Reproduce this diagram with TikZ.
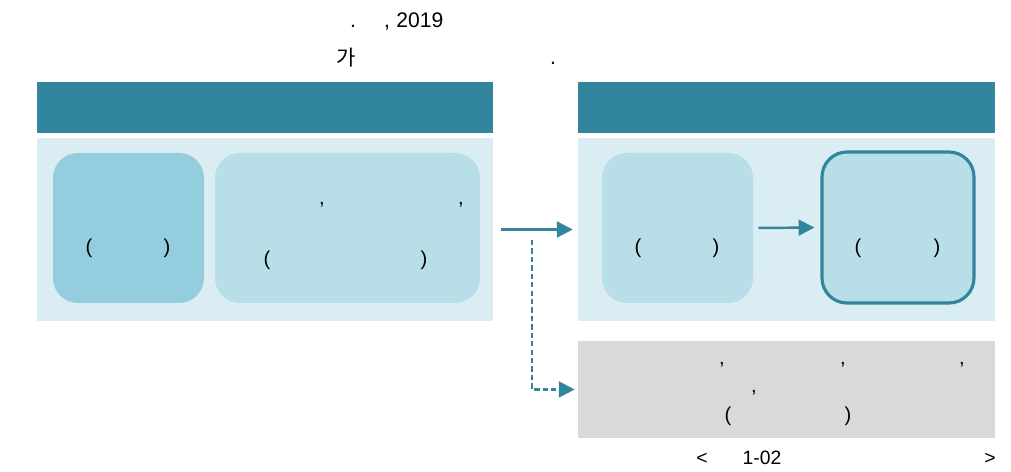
\documentclass[tikz,border=0pt]{standalone}
\usepackage{fontspec}
\setmainfont{Liberation Sans}
\newfontfamily\kr{Noto Sans CJK KR}
\usetikzlibrary{fit,arrows.meta}
\definecolor{teal1}{HTML}{31869E}
\definecolor{panelbg}{HTML}{DAEDF3}
\definecolor{boxdark}{HTML}{93CDDE}
\definecolor{boxlight}{HTML}{B8DEE8}
\definecolor{graybox}{HTML}{D9D9D9}
\tikzset{
  area/.style={inner sep=0pt, draw=none},
  header/.style={fill=teal1},
  panel/.style={fill=panelbg},
  rbox/.style={rounded corners=0.5cm},
  glyph/.style={inner sep=0pt, anchor=base, font=\fontsize{11.5}{13}\selectfont, text=black},
  tglyph/.style={glyph, font=\fontsize{12}{14}\selectfont},
  flow/.style={teal1, line width=1.4pt, -{Triangle[length=9pt,width=9pt]}},
  dflow/.style={teal1, line width=1.3pt, dash pattern=on 3pt off 1.8pt, -{Triangle[length=9pt,width=9pt]}}
}
\begin{document}
\begin{tikzpicture}[x=0.02cm,y=-0.02cm]
\useasboundingbox (0,0) rectangle (1011,472);
% title
\node[tglyph] (t1) at (353,28) {.};
\node[tglyph] (t2) at (387,28) {,};
\node[tglyph, anchor=base west] (t3) at (396,28) {2019};
\node[tglyph] (t4) at (346,66) {\kr 가};
\node[tglyph] (t5) at (553,65) {.};
% left panel
\node[area, fit={(37,82) (493,133)}, header] (lhead) {};
\node[area, fit={(37,138) (493,321)}, panel] (lbody) {};
\node[area, fit={(53,153) (204,303)}, rbox, fill=boxdark] (lb1) {};
\node[area, fit={(215,153) (480,303)}, rbox, fill=boxlight] (lb2) {};
\node[glyph] (lb1a) at (89,254) {(};
\node[glyph] (lb1b) at (167,254) {)};
\node[glyph] (lb2a) at (322,205) {,};
\node[glyph] (lb2b) at (461,205) {,};
\node[glyph] (lb2c) at (267,266) {(};
\node[glyph] (lb2d) at (424,266) {)};
% right panel
\node[area, fit={(578,82) (995,133)}, header] (rhead) {};
\node[area, fit={(578,138) (995,321)}, panel] (rbody) {};
\node[area, fit={(602,153) (753,303)}, rbox, fill=boxlight] (rb1) {};
\node[area, fit={(822,152) (974,303)}, rbox, fill=boxlight, draw=teal1, line width=1.8pt] (rb2) {};
\node[glyph] (rb1a) at (638,254) {(};
\node[glyph] (rb1b) at (716,254) {)};
\node[glyph] (rb2a) at (858,254) {(};
\node[glyph] (rb2b) at (937,254) {)};
% gray box
\node[area, fit={(578,341) (995,438)}, fill=graybox] (gbox) {};
\node[glyph] (g1) at (722,365) {,};
\node[glyph] (g2) at (843,365) {,};
\node[glyph] (g3) at (962,365) {,};
\node[glyph] (g4) at (754,393) {,};
\node[glyph] (g5) at (728,422) {(};
\node[glyph] (g6) at (848,422) {)};
% caption
\node[glyph, font=\fontsize{11}{13}\selectfont] (c1) at (702,465) {<};
\node[glyph, font=\fontsize{11}{13}\selectfont] (c2) at (762,465) {1-02};
\node[glyph, font=\fontsize{11}{13}\selectfont] (c3) at (990,465) {>};
% connectors
\draw[flow, shorten <=4.5pt, shorten >=2.8pt] (lbody.east) -- (rbody.west);
\draw[flow, shorten <=2.8pt, shorten >=3.4pt] (rb1.east) -- (rb2.west);
\coordinate (dstart) at (532,240);
\draw[dflow, shorten >=1.7pt] (dstart) |- (gbox.west);
\end{tikzpicture}
\end{document}
